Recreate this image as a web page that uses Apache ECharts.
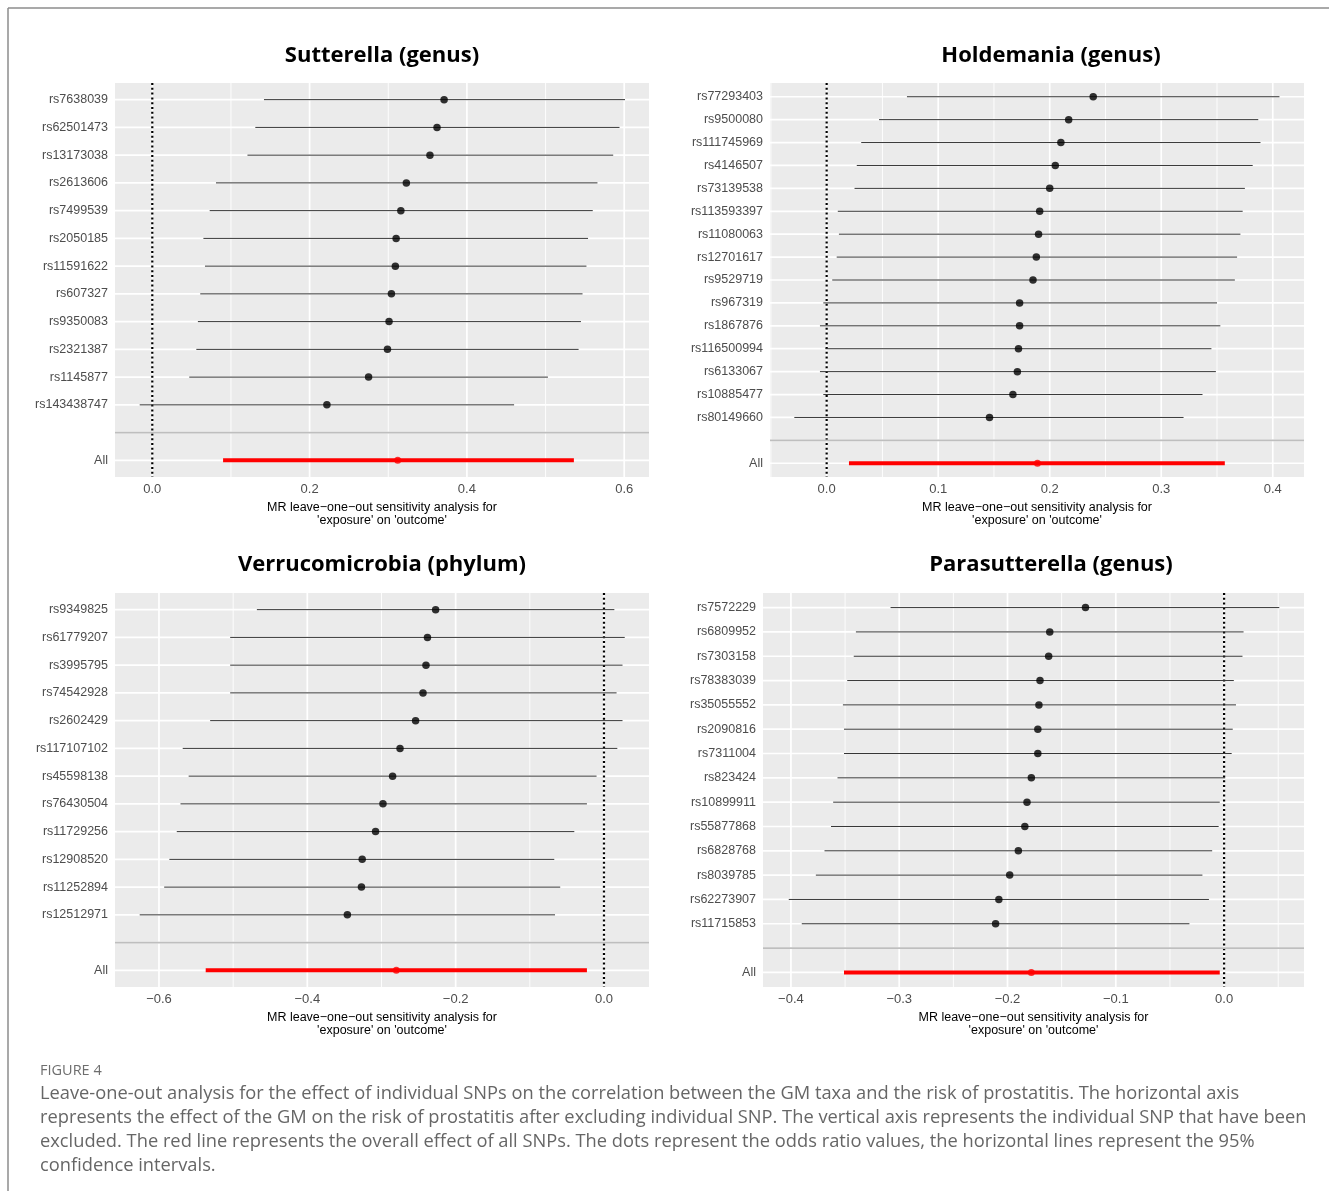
<!DOCTYPE html>
<html>
<head>
<meta charset="utf-8">
<script src="https://cdn.jsdelivr.net/npm/echarts@6/dist/echarts.min.js"></script>
<style>
html,body{margin:0;padding:0;background:#fff;}
#c{width:1329px;height:1191px;}
</style>
</head>
<body>
<div id="c"></div>
<script>
// ---------- DATA ----------
const sutTitle = 'Sutterella (genus)';
const sutSnps = ['rs7638039','rs62501473','rs13173038','rs2613606','rs7499539','rs2050185','rs11591622','rs607327','rs9350083','rs2321387','rs1145877','rs143438747'];
const sutEst = [0.371,0.362,0.353,0.323,0.316,0.310,0.309,0.304,0.301,0.299,0.275,0.222];
const sutLo  = [0.142,0.131,0.121,0.081,0.073,0.065,0.067,0.061,0.058,0.056,0.047,-0.016];
const sutHi  = [0.601,0.594,0.586,0.566,0.560,0.554,0.552,0.547,0.545,0.542,0.503,0.460];
const sutAll = [0.090,0.312,0.536]; // lo, estimate, hi
const sutTicks = [0, 0.2, 0.4, 0.6];
const sutMinor = [0.1, 0.3, 0.5];

const holTitle = 'Holdemania (genus)';
const holSnps = ['rs77293403','rs9500080','rs111745969','rs4146507','rs73139538','rs113593397','rs11080063','rs12701617','rs9529719','rs967319','rs1867876','rs116500994','rs6133067','rs10885477','rs80149660'];
const holEst = [0.239,0.217,0.210,0.205,0.200,0.191,0.190,0.188,0.185,0.173,0.173,0.172,0.171,0.167,0.146];
const holLo  = [0.072,0.047,0.031,0.027,0.025,0.010,0.011,0.009,0.005,-0.003,-0.006,-0.001,-0.006,-0.003,-0.029];
const holHi  = [0.406,0.387,0.389,0.382,0.375,0.373,0.371,0.368,0.366,0.350,0.353,0.345,0.349,0.337,0.320];
const holAll = [0.020,0.189,0.357];
const holTicks = [0, 0.1, 0.2, 0.3, 0.4];
const holMinor = [-0.05, 0.05, 0.15, 0.25, 0.35];

const verTitle = 'Verrucomicrobia (phylum)';
const verSnps = ['rs9349825','rs61779207','rs3995795','rs74542928','rs2602429','rs117107102','rs45598138','rs76430504','rs11729256','rs12908520','rs11252894','rs12512971'];
const verEst = [-0.227,-0.238,-0.240,-0.244,-0.254,-0.275,-0.285,-0.298,-0.308,-0.326,-0.327,-0.346];
const verLo  = [-0.468,-0.504,-0.504,-0.504,-0.531,-0.568,-0.560,-0.571,-0.576,-0.586,-0.593,-0.626];
const verHi  = [0.014,0.028,0.025,0.017,0.025,0.018,-0.010,-0.023,-0.040,-0.067,-0.059,-0.066];
const verAll = [-0.537,-0.280,-0.023];
const verTicks = [-0.6, -0.4, -0.2, 0];
const verMinor = [-0.5, -0.3, -0.1];

const parTitle = 'Parasutterella (genus)';
const parSnps = ['rs7572229','rs6809952','rs7303158','rs78383039','rs35055552','rs2090816','rs7311004','rs823424','rs10899911','rs55877868','rs6828768','rs8039785','rs62273907','rs11715853'];
const parEst = [-0.128,-0.161,-0.162,-0.170,-0.171,-0.172,-0.172,-0.178,-0.182,-0.184,-0.190,-0.198,-0.208,-0.211];
const parLo  = [-0.308,-0.340,-0.342,-0.348,-0.352,-0.351,-0.351,-0.357,-0.361,-0.363,-0.369,-0.377,-0.402,-0.390];
const parHi  = [0.051,0.018,0.017,0.009,0.011,0.008,0.007,0.001,-0.004,-0.005,-0.011,-0.020,-0.014,-0.032];
const parAll = [-0.351,-0.178,-0.004];
const parTicks = [-0.4, -0.3, -0.2, -0.1, 0];
const parMinor = [-0.35, -0.25, -0.15, -0.05, 0.05];

const axisTitle = "MR leave\u2212one\u2212out sensitivity analysis for\n'exposure' on 'outcome'";
const figLabel = 'FIGURE 4';
const captionLines = [
  'Leave-one-out analysis for the effect of individual SNPs on the correlation between the GM taxa and the risk of prostatitis. The horizontal axis',
  'represents the effect of the GM on the risk of prostatitis after excluding individual SNP. The vertical axis represents the individual SNP that have been',
  'excluded. The red line represents the overall effect of all SNPs. The dots represent the odds ratio values, the horizontal lines represent the 95%',
  'confidence intervals.'
];

// ---------- LAYOUT ----------
const panels = [
  {title: sutTitle, snps: sutSnps, est: sutEst, lo: sutLo, hi: sutHi, all: sutAll, ticks: sutTicks, minor: sutMinor,
   grid: {left:115, top:83, width:534, height:394}, xmin:-0.0474, xmax:0.6315, tx:382, ty:56},
  {title: holTitle, snps: holSnps, est: holEst, lo: holLo, hi: holHi, all: holAll, ticks: holTicks, minor: holMinor,
   grid: {left:770, top:83, width:534, height:394}, xmin:-0.0508, xmax:0.428, tx:1051, ty:56},
  {title: verTitle, snps: verSnps, est: verEst, lo: verLo, hi: verHi, all: verAll, ticks: verTicks, minor: verMinor,
   grid: {left:115, top:593, width:534, height:394}, xmin:-0.6593, xmax:0.0607, tx:382, ty:565},
  {title: parTitle, snps: parSnps, est: parEst, lo: parLo, hi: parHi, all: parAll, ticks: parTicks, minor: parMinor,
   grid: {left:763, top:593, width:541, height:394}, xmin:-0.4258, xmax:0.0738, tx:1051, ty:565}
];

const FONT = '"Liberation Sans", Arial, sans-serif';
function fmtNum(v){
  const s = Math.abs(v).toFixed(1);
  return (v < -1e-9 ? '\u2212' : '') + s;
}

// generic "segment" custom series: each data item = [x1, y1, x2, y2] in data space
function segSeries(k, data, style, z){
  return {
    type:'custom', xAxisIndex:k, yAxisIndex:k, silent:true, z:z, animation:false, clip:false,
    data:data, encode:{x:[0, 2], y:[1, 3]},
    renderItem:(params, api) => {
      const a = api.coord([api.value(0), api.value(1)]);
      const b = api.coord([api.value(2), api.value(3)]);
      return {type:'line', shape:{x1:a[0], y1:a[1], x2:b[0], y2:b[1]}, style:Object.assign({}, style)};
    }
  };
}
// panel background rectangle spanning the axis extents
function bgSeries(k, x1, y1, x2, y2){
  return {
    type:'custom', xAxisIndex:k, yAxisIndex:k, silent:true, z:1, animation:false, clip:false,
    data:[[x1, y1, x2, y2]], encode:{x:[0, 2], y:[1, 3]},
    renderItem:(params, api) => {
      const a = api.coord([api.value(0), api.value(1)]);
      const b = api.coord([api.value(2), api.value(3)]);
      return {type:'rect', shape:{x:Math.min(a[0], b[0]), y:Math.min(a[1], b[1]), width:Math.abs(b[0] - a[0]), height:Math.abs(b[1] - a[1])},
        style:{fill:'#EBEBEB'}, z2:0};
    }
  };
}

const grids = [], xAxes = [], yAxes = [], series = [], graphics = [];

panels.forEach((p, k) => {
  const cats = p.snps.concat(['', 'All']);
  const n = cats.length;
  const blankIdx = p.snps.length;
  const allIdx = n - 1;
  const idxs = cats.map((c, i) => i);
  const yTop = -0.6, yBot = n - 1 + 0.6;

  grids.push(Object.assign({show:false, containLabel:false}, p.grid));
  xAxes.push({
    type:'value', gridIndex:k, min:p.xmin, max:p.xmax,
    axisLine:{show:false}, splitLine:{show:false}, minorSplitLine:{show:false},
    axisTick:{show:true, length:4, lineStyle:{color:'#333', width:1.5}, customValues:p.ticks},
    axisLabel:{show:true, customValues:p.ticks, formatter:fmtNum, color:'#4d4d4d', fontSize:13, fontFamily:FONT, margin:6},
    name: axisTitle, nameLocation:'middle', nameGap:24,
    nameTextStyle:{color:'#000', fontSize:12.5, fontFamily:FONT, lineHeight:13, verticalAlign:'top'}
  });
  yAxes.push({
    type:'value', gridIndex:k, min:yTop, max:yBot, inverse:true,
    axisLine:{show:false}, splitLine:{show:false},
    axisTick:{show:true, length:4, lineStyle:{color:'#333', width:1.5}, customValues:idxs},
    axisLabel:{show:true, customValues:idxs, formatter:(v) => cats[Math.round(v)], color:'#4d4d4d', fontSize:12.5, fontFamily:FONT, margin:7}
  });

  series.push(bgSeries(k, p.xmin, yTop, p.xmax, yBot));
  // background gridlines (ggplot grey theme)
  series.push(segSeries(k, p.minor.map(v => [v, yTop, v, yBot]), {stroke:'#FFFFFF', lineWidth:0.9}, 2));
  series.push(segSeries(k, p.ticks.map(v => [v, yTop, v, yBot]), {stroke:'#FFFFFF', lineWidth:1.7}, 2));
  series.push(segSeries(k, idxs.map(i => [p.xmin, i, p.xmax, i]), {stroke:'#FFFFFF', lineWidth:1.7}, 2));

  // dotted vertical line at zero
  series.push(segSeries(k, [[0, yTop, 0, yBot]], {stroke:'#000', lineWidth:2.2, lineDash:[2, 2.8], lineCap:'butt'}, 3));

  // confidence intervals
  series.push(segSeries(k, p.lo.map((l, i) => [l, i, p.hi[i], i]), {stroke:'#333', lineWidth:1}, 4));
  series.push(segSeries(k, [[p.all[0], allIdx, p.all[2], allIdx]], {stroke:'#FF0000', lineWidth:4}, 4));

  // point estimates
  series.push({
    type:'scatter', xAxisIndex:k, yAxisIndex:k, silent:true, z:5, animation:false,
    symbol:'circle', symbolSize:7.5, itemStyle:{color:'#000'},
    data:p.est.map((e, i) => [e, i])
  });
  series.push({
    type:'scatter', xAxisIndex:k, yAxisIndex:k, silent:true, z:5, animation:false,
    symbol:'circle', symbolSize:7, itemStyle:{color:'#FF0000'},
    data:[[p.all[1], allIdx]]
  });

  // grey separator at the blank level
  series.push(segSeries(k, [[p.xmin, blankIdx, p.xmax, blankIdx]], {stroke:'#BEBEBE', lineWidth:1.6}, 6));

  graphics.push({
    type:'text', x:p.tx, y:p.ty, silent:true,
    style:{text:p.title, fill:'#000', font:'bold 22px "Open Sans", "Noto Sans", sans-serif', textAlign:'center', textVerticalAlign:'middle'}
  });
});

// frame
graphics.push({type:'line', silent:true, shape:{x1:8, y1:8, x2:1329, y2:8}, style:{stroke:'#8c8c8c', lineWidth:1.5}});
graphics.push({type:'line', silent:true, shape:{x1:8, y1:8, x2:8, y2:1191}, style:{stroke:'#8c8c8c', lineWidth:1.5}});
// caption
graphics.push({type:'text', x:40, y:1071, silent:true,
  style:{text:figLabel, fill:'#6e6e6e', font:'14.5px "Open Sans", sans-serif', textVerticalAlign:'middle'}});
captionLines.forEach((t, i) => {
  graphics.push({type:'text', x:40, y:1094 + i * 24, silent:true,
    style:{text:t, fill:'#666666', font:'18.3px "Open Sans", sans-serif', textVerticalAlign:'middle'}});
});

const chart = echarts.init(document.getElementById('c'), null, {renderer:'canvas'});
chart.setOption({
  backgroundColor:'#fff',
  animation:false,
  grid:grids, xAxis:xAxes, yAxis:yAxes, series:series, graphic:graphics
});
</script>
</body>
</html>
